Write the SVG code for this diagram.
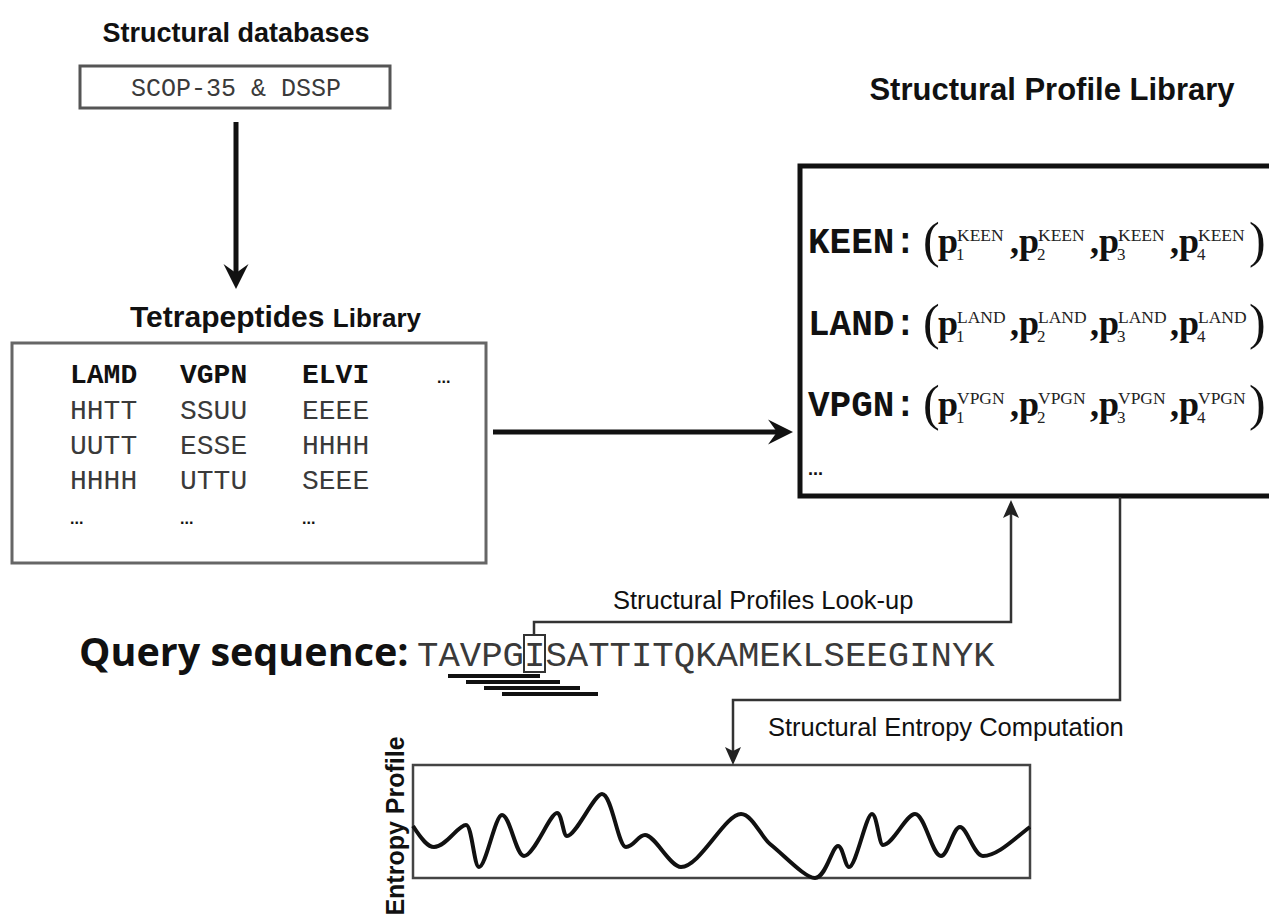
<svg xmlns="http://www.w3.org/2000/svg" width="1269" height="918" viewBox="0 0 1269 918">
  <defs>
    <style>
      .title { font-family: "Liberation Sans", Arial, sans-serif; font-weight: bold; fill: #111; }
      .label { font-family: "Liberation Sans", Arial, sans-serif; font-size: 25.5px; fill: #111; }
      .mono { font-family: "Liberation Mono", "Courier New", monospace; fill: #3a3a3a; }
      .monob { font-family: "Liberation Mono", "Courier New", monospace; font-weight: bold; fill: #111; }
      .pb { font-family: "Liberation Serif", "Times New Roman", serif; font-weight: bold; font-size: 36px; fill: #111; }
      .sub { font-family: "Liberation Serif", "Times New Roman", serif; font-size: 17px; fill: #222; }
      .sup { font-family: "Liberation Serif", "Times New Roman", serif; font-size: 17.5px; fill: #222; }
      .paren { font-family: "Liberation Serif", "Times New Roman", serif; font-size: 50px; fill: #111; }
      .thick { fill: none; stroke: #111; stroke-width: 5; }
      .thin { fill: none; stroke: #333; stroke-width: 2.5; }
    </style>
    <marker id="bigHead" markerUnits="userSpaceOnUse" viewBox="-10 -14 28 28" refX="0" refY="0" markerWidth="28" markerHeight="28" orient="auto">
      <path d="M16,0 L-9,-12.5 L0,0 L-9,12.5 Z" fill="#111"/>
    </marker>
    <marker id="smallHead" markerUnits="userSpaceOnUse" viewBox="-6 -10 22 20" refX="0" refY="0" markerWidth="22" markerHeight="20" orient="auto">
      <path d="M14,0 L-4,-8 L0,0 L-4,8 Z" fill="#222"/>
    </marker>
  </defs>

  <rect x="0" y="0" width="1269" height="918" fill="#fff"/>

  <!-- Source databases -->
  <g id="structural-databases">
    <text class="title" x="236" y="42" font-size="27" text-anchor="middle">Structural databases</text>
    <rect x="80" y="66" width="310" height="42" fill="none" stroke="#555" stroke-width="3"/>
    <text class="mono" x="236" y="96" font-size="25" text-anchor="middle">SCOP-35 &amp; DSSP</text>
  </g>

  <!-- Tetrapeptide library -->
  <g id="tetrapeptides-library">
    <text class="title" x="130" y="327" font-size="30">Tetrapeptides <tspan font-size="26">Library</tspan></text>
    <rect x="12" y="343" width="474" height="220" fill="none" stroke="#666" stroke-width="3"/>
    <g class="monob" font-size="28">
      <text x="70" y="383">LAMD</text>
      <text x="180" y="383">VGPN</text>
      <text x="302" y="383">ELVI</text>
    </g>
    <text class="title" x="437" y="383" font-size="16" fill="#444">...</text>
    <g class="mono" font-size="28">
      <text x="70" y="419">HHTT</text>
      <text x="180" y="419">SSUU</text>
      <text x="302" y="419">EEEE</text>
      <text x="70" y="454">UUTT</text>
      <text x="180" y="454">ESSE</text>
      <text x="302" y="454">HHHH</text>
      <text x="70" y="489">HHHH</text>
      <text x="180" y="489">UTTU</text>
      <text x="302" y="489">SEEE</text>
    </g>
    <g class="title" font-size="16" fill="#444">
      <text x="70" y="524">...</text>
      <text x="180" y="524">...</text>
      <text x="302" y="524">...</text>
    </g>
  </g>

  <!-- Structural profile library -->
  <g id="structural-profile-library">
    <text class="title" x="1052" y="100" font-size="31" text-anchor="middle">Structural Profile Library</text>
    <rect x="800" y="166" width="480" height="330" fill="none" stroke="#111" stroke-width="5"/>

    <g transform="translate(0,253)">
      <text class="monob" x="808" y="0" font-size="36">KEEN:</text>
      <text class="paren" x="923" y="4">(</text>
      <text class="pb" x="938" y="0">p</text><text class="sub" x="956" y="7">1</text><text class="sup" x="957" y="-12">KEEN</text>
      <text class="pb" x="1010" y="0">,</text>
      <text class="pb" x="1019" y="0">p</text><text class="sub" x="1037" y="7">2</text><text class="sup" x="1038" y="-12">KEEN</text>
      <text class="pb" x="1090" y="0">,</text>
      <text class="pb" x="1099" y="0">p</text><text class="sub" x="1117" y="7">3</text><text class="sup" x="1118" y="-12">KEEN</text>
      <text class="pb" x="1170" y="0">,</text>
      <text class="pb" x="1179" y="0">p</text><text class="sub" x="1197" y="7">4</text><text class="sup" x="1198" y="-12">KEEN</text>
      <text class="paren" x="1249" y="4">)</text>
    </g>

    <g transform="translate(0,335)">
      <text class="monob" x="808" y="0" font-size="36">LAND:</text>
      <text class="paren" x="923" y="4">(</text>
      <text class="pb" x="938" y="0">p</text><text class="sub" x="956" y="7">1</text><text class="sup" x="957" y="-12">LAND</text>
      <text class="pb" x="1010" y="0">,</text>
      <text class="pb" x="1019" y="0">p</text><text class="sub" x="1037" y="7">2</text><text class="sup" x="1038" y="-12">LAND</text>
      <text class="pb" x="1090" y="0">,</text>
      <text class="pb" x="1099" y="0">p</text><text class="sub" x="1117" y="7">3</text><text class="sup" x="1118" y="-12">LAND</text>
      <text class="pb" x="1170" y="0">,</text>
      <text class="pb" x="1179" y="0">p</text><text class="sub" x="1197" y="7">4</text><text class="sup" x="1198" y="-12">LAND</text>
      <text class="paren" x="1249" y="4">)</text>
    </g>

    <g transform="translate(0,416)">
      <text class="monob" x="808" y="0" font-size="36">VPGN:</text>
      <text class="paren" x="923" y="4">(</text>
      <text class="pb" x="938" y="0">p</text><text class="sub" x="956" y="7">1</text><text class="sup" x="957" y="-12">VPGN</text>
      <text class="pb" x="1010" y="0">,</text>
      <text class="pb" x="1019" y="0">p</text><text class="sub" x="1037" y="7">2</text><text class="sup" x="1038" y="-12">VPGN</text>
      <text class="pb" x="1090" y="0">,</text>
      <text class="pb" x="1099" y="0">p</text><text class="sub" x="1117" y="7">3</text><text class="sup" x="1118" y="-12">VPGN</text>
      <text class="pb" x="1170" y="0">,</text>
      <text class="pb" x="1179" y="0">p</text><text class="sub" x="1197" y="7">4</text><text class="sup" x="1198" y="-12">VPGN</text>
      <text class="paren" x="1249" y="4">)</text>
    </g>

    <text class="title" x="808" y="475" font-size="18">...</text>
  </g>

  <!-- Query sequence with the highlighted residue and its tetrapeptide windows -->
  <g id="query-sequence">
    <text x="79" y="666" font-family="'Open Sans', 'DejaVu Sans', sans-serif" font-weight="bold" font-size="39.5" fill="#111">Query sequence:</text>
    <text class="mono" x="417" y="666" font-size="35.67">TAVPGISATTITQKAMEKLSEEGINYK</text>
    <rect x="524" y="635" width="21" height="37" fill="none" stroke="#333" stroke-width="2"/>
    <g stroke="#111" stroke-width="4">
      <line x1="448" y1="676" x2="540" y2="676"/>
      <line x1="466" y1="682" x2="560" y2="682"/>
      <line x1="484" y1="688" x2="580" y2="688"/>
      <line x1="502" y1="694" x2="598" y2="694"/>
    </g>
  </g>

  <!-- Entropy profile plot -->
  <g id="entropy-profile">
    <text class="title" transform="translate(404,826) rotate(-90)" font-size="25" text-anchor="middle">Entropy Profile</text>
    <rect x="413" y="765" width="617" height="113" fill="none" stroke="#444" stroke-width="2.5"/>
    <path fill="none" stroke="#111" stroke-width="4" stroke-linejoin="round"
      d="M413,826 C422,840 428,847 434,847 C446,847 458,825 466,825 C472,825 474,867 479,867
         C486,867 495,815 502,815 C510,815 516,856 524,856 C534,856 550,813 557,813
         C562,813 563,836 567,836 C576,836 594,794 602,794 C612,794 618,847 626,847
         C634,847 638,835 645,835 C655,835 670,867 681,867 C700,867 725,814 741,814
         C752,814 762,838 770,844 C785,856 805,878 815,878 C826,878 832,846 838,846
         C843,846 845,867 849,867 C856,867 866,814 872,814 C877,814 879,845 883,845
         C893,845 906,814 915,814 C925,814 932,856 941,856 C948,856 953,827 960,827
         C967,827 974,856 983,856 C998,856 1015,838 1030,827"/>
  </g>

  <!-- Connectors -->
  <g id="connectors">
    <line class="thick" x1="236" y1="122" x2="236" y2="273" marker-end="url(#bigHead)"/>
    <line class="thick" x1="493" y1="432" x2="777" y2="432" marker-end="url(#bigHead)"/>
    <path class="thin" d="M534,635 V622 H1011 V514" marker-end="url(#smallHead)"/>
    <text class="label" x="613" y="609">Structural Profiles Look-up</text>
    <path class="thin" d="M1120,497 V700 H733 V751" marker-end="url(#smallHead)"/>
    <text class="label" x="768" y="736">Structural Entropy Computation</text>
  </g>
</svg>
